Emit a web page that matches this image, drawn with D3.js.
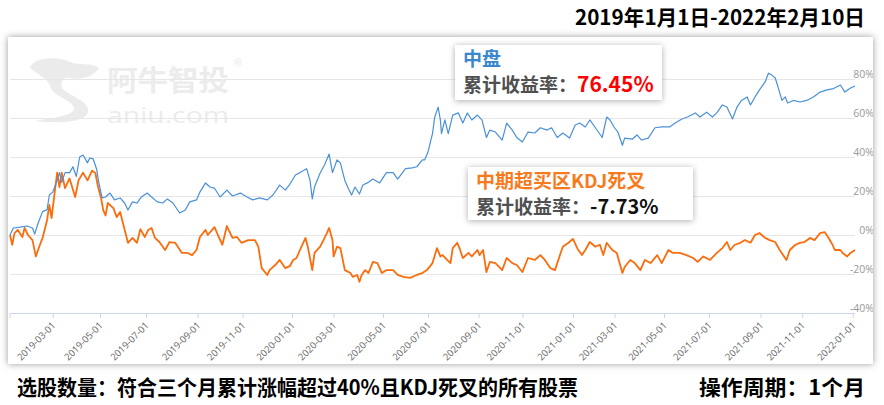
<!DOCTYPE html>
<html>
<head>
<meta charset="utf-8">
<script src="https://cdn.jsdelivr.net/npm/d3@7/dist/d3.min.js"></script>
<style>
  html, body { margin: 0; padding: 0; background: #fff; }
  svg { display: block; font-family: "Noto Sans CJK SC", "Noto Sans", sans-serif; }
</style>
</head>
<body>
<svg id="chart" width="884" height="405"></svg>
<script>
// ---- data ----
const titleText = "2019年1月1日-2022年2月10日";
const footLeft = "选股数量：符合三个月累计涨幅超过40%且KDJ死叉的所有股票";
const footRight = "操作周期：1个月";
const series1Name = "中盘";
const series1Return = "76.45%";
const series2Name = "中期超买区KDJ死叉";
const series2Return = "-7.73%";
const returnLabel = "累计收益率：";

const totalDays = 752;
const tickDays = [38, 80, 121, 167, 207, 251, 288, 332, 372, 417, 456, 501, 538, 582, 622, 668, 705, 750];
const tickLabels = ["2019-03-01","2019-05-01","2019-07-01","2019-09-01","2019-11-01","2020-01-01","2020-03-01","2020-05-01","2020-07-01","2020-09-01","2020-11-01","2021-01-01","2021-03-01","2021-05-01","2021-07-01","2021-09-01","2021-11-01","2022-01-01"];
const yTicks = [-40, -20, 0, 20, 40, 60, 80];

// [trading-day index, cumulative return %]
const blueSeries = [
[0,0],[3,3.6],[9,4],[15,4.6],[20,3.6],[22,0.5],[25,6],[29,12],[33,13],[35,20.5],[38,22],[42,28],[44,32],[46,27],[49,32],[53,32],[56,35],[59,30],[62,40],[65,41],[69,37],[71,39.5],[74,39],[77,34],[79,27],[82,19],[85,19.5],[89,21.5],[93,18],[98,19],[102,16.4],[105,12.8],[109,17],[113,16.4],[117,19.5],[122,21.5],[126,19.5],[131,17],[136,16.4],[140,18.5],[145,16.4],[151,11.3],[156,12.8],[160,17],[166,18],[169,22],[174,26.7],[178,24.6],[182,24],[187,19.5],[193,23],[198,20],[205,21.5],[211,19.5],[216,18],[222,19],[229,18],[234,20.5],[240,25.6],[245,23],[249,26],[254,30.8],[258,32],[264,34],[267,28],[269,18.5],[271,24.6],[276,31.8],[280,36],[284,41.5],[287,32],[291,38.5],[294,37],[298,28],[301,24],[304,20.5],[307,24.6],[311,21],[314,25.6],[319,27],[323,28.7],[329,26.7],[335,32],[341,32],[345,28.7],[352,34],[358,34.4],[362,35],[367,38.5],[369,38.5],[372,42.6],[376,52],[378,60.5],[381,65.6],[383,59],[384,52],[387,59],[390,52],[394,61.5],[399,62.6],[403,57.4],[407,62.6],[411,59],[416,61.5],[420,59],[424,50],[427,53.8],[432,52.8],[438,48.7],[442,57.4],[447,53.8],[451,50],[456,47.7],[461,52.8],[467,52.3],[472,55],[478,53.8],[482,55],[487,50],[492,52.3],[498,49.7],[503,56.4],[507,57.4],[512,55.4],[516,59],[521,55],[527,50],[531,60.5],[534,59],[538,55],[541,52.8],[545,46],[547,49.7],[554,49.2],[558,51.3],[562,48.7],[568,49.7],[574,55],[580,55.4],[587,55.4],[592,57.4],[598,59.5],[603,60.5],[610,62.6],[614,60.5],[620,63],[625,60.5],[629,62.6],[634,66.7],[638,65.6],[643,59.5],[647,65.6],[651,69],[656,70.8],[659,66.7],[663,70.8],[667,74.4],[672,78.5],[675,83],[678,82],[681,80.5],[683,76.9],[687,69],[690,70.8],[692,67.7],[697,69],[703,68.2],[709,69],[715,70.8],[721,73.3],[727,74.4],[732,74.9],[739,76.9],[743,73.3],[748,75.4],[752,76.45]
];
const orangeSeries = [
[0,0],[2,-5],[4,1],[7,2.6],[11,-1],[13,3.6],[16,0],[20,-2.6],[23,-11],[26,-6],[29,-1.5],[33,7.7],[35,15.4],[37,8.7],[40,23],[42,32],[44,24.6],[46,32],[49,24],[53,29],[58,19.5],[61,28],[65,32],[69,28],[73,33],[76,31.8],[78,25.6],[81,19],[83,12.8],[85,10],[87,16.4],[92,13.8],[95,9.2],[98,11.8],[101,5],[105,-4],[109,-1.5],[113,-4],[116,3],[120,-1],[123,2.6],[126,3.6],[129,-1.5],[133,-3.6],[138,-7.7],[142,-3.6],[147,-4],[153,-9.2],[158,-9.2],[162,-10.3],[166,-7.7],[169,-1],[174,2.6],[176,0],[182,4],[185,0],[189,-5],[193,4.6],[198,-1.5],[202,-1],[206,-4],[212,-2.6],[218,-2.6],[221,-6],[224,-17],[229,-20.5],[231,-18],[236,-15.4],[240,-12.8],[245,-17],[249,-16],[252,-12.8],[255,-11.8],[258,-7.7],[263,-1.5],[265,-6],[269,-18],[271,-9.2],[276,-6],[279,-2.6],[282,1],[284,3.6],[287,-2.6],[288,-11],[291,-6],[294,-6.7],[298,-18],[303,-19.5],[305,-21.5],[309,-20.5],[311,-24],[313,-20.5],[316,-18],[319,-19.5],[323,-13.8],[327,-14.4],[331,-19.5],[335,-18],[341,-18],[345,-20.5],[350,-21.5],[356,-22],[362,-20.5],[367,-19.5],[371,-18],[376,-14.4],[380,-6.7],[383,-11],[385,-10.3],[389,-12.8],[392,-14.4],[394,-6.7],[398,-4],[400,-6.7],[403,-11.8],[408,-9.2],[411,-11],[416,-7.7],[418,-10.3],[421,-7.7],[424,-19],[427,-13.8],[432,-14.4],[438,-18],[442,-11.8],[447,-14.4],[451,-15.4],[456,-19],[461,-11.8],[467,-12.8],[472,-10.3],[476,-12.8],[481,-17],[485,-18],[489,-11],[492,-6],[497,-4],[501,-2],[505,-7],[509,-10.3],[512,-7.7],[516,-3.6],[521,-6],[525,-5],[528,-10.3],[531,-4],[536,-7.7],[540,-9.2],[545,-19.5],[547,-16.4],[552,-12.8],[556,-14.4],[561,-18],[565,-12.8],[570,-14.4],[576,-10.3],[580,-14.4],[586,-7.7],[590,-9.2],[596,-9.2],[602,-10.3],[608,-11.8],[612,-13.8],[617,-11],[623,-12.8],[629,-9.2],[634,-6.7],[638,-3.6],[641,-7.7],[645,-5],[650,-4],[654,-2.6],[659,-4],[663,0],[667,1],[672,-1.5],[676,-2.6],[681,-3.6],[685,-7.7],[688,-10.3],[691,-12.8],[694,-7.7],[699,-5],[703,-4],[707,-3.6],[712,-1.5],[716,-2.6],[721,1],[725,1.5],[728,-1],[732,-5],[734,-7.7],[739,-7.7],[741,-9.2],[745,-11],[748,-9.2],[752,-7.73]
];

// ---- drawing ----
const svg = d3.select("#chart");
const defs = svg.append("defs");
const sh = defs.append("filter").attr("id", "shadow").attr("x", "-10%").attr("y", "-10%").attr("width", "120%").attr("height", "120%");
sh.append("feDropShadow").attr("dx", 0).attr("dy", 0).attr("stdDeviation", 3.5).attr("flood-color", "#777").attr("flood-opacity", 0.75);
const sh2 = defs.append("filter").attr("id", "shadow2").attr("x", "-20%").attr("y", "-30%").attr("width", "140%").attr("height", "160%");
sh2.append("feDropShadow").attr("dx", 0).attr("dy", 1).attr("stdDeviation", 3).attr("flood-color", "#888").attr("flood-opacity", 0.7);

const panel = {x: 8, y: 37, w: 865, h: 327};
defs.append("clipPath").attr("id", "panelClip").append("rect")
  .attr("x", panel.x).attr("y", panel.y).attr("width", panel.w).attr("height", panel.h);

svg.append("rect").attr("x", panel.x).attr("y", panel.y).attr("width", panel.w).attr("height", panel.h)
  .attr("fill", "#fff").attr("filter", "url(#shadow)");

// title
svg.append("text").attr("x", 575).attr("y", 25)
  .attr("font-size", 21).attr("font-weight", "bold").attr("fill", "#000")
  .attr("textLength", 290).attr("lengthAdjust", "spacingAndGlyphs").text(titleText);

// watermark
const wm = svg.append("g").attr("fill", "#ebebeb");
wm.append("path").attr("d", "M30,68 C32,58 55,55 70,62 C80,66 90,62 99,68 C92,78 80,80 70,78 C63,77 60,82 62,88 C66,95 90,100 88,112 C86,122 60,124 35,121 C50,118 75,116 74,108 C73,100 52,96 50,86 C49,80 40,76 30,68 Z");
wm.append("text").attr("x", 107).attr("y", 91).attr("font-size", 28).attr("font-weight", "bold").attr("fill", "#ececec")
  .attr("textLength", 122).attr("lengthAdjust", "spacingAndGlyphs").text("阿牛智投");
wm.append("text").attr("x", 234).attr("y", 72).attr("font-size", 17).attr("fill", "#ececec").text("®");
wm.append("text").attr("x", 107).attr("y", 123).attr("font-size", 22).attr("fill", "#ececec").attr("font-family", "Open Sans, sans-serif")
  .attr("textLength", 122).attr("lengthAdjust", "spacingAndGlyphs").text("aniu.com");

const x = d3.scaleLinear().domain([0, totalDays]).range([10, 855]);
const y = d3.scaleLinear().domain([-40, 100]).range([313, 40]);

const g = svg.append("g").attr("clip-path", "url(#panelClip)");

// gridlines
g.selectAll("line.grid").data(yTicks.filter(d => d > -40)).enter().append("line")
  .attr("x1", x(0)).attr("x2", x(totalDays)).attr("y1", d => y(d)).attr("y2", d => y(d))
  .attr("stroke", "#e6e6e6").attr("stroke-width", 1).attr("shape-rendering", "crispEdges");

// y labels
const yAxis = d3.axisLeft(y).tickValues(yTicks).tickSize(0).tickPadding(0).tickFormat(d => d + "%");
const ya = g.append("g").attr("transform", "translate(874,0)").call(yAxis);
ya.select(".domain").remove();
ya.selectAll("text").attr("font-size", 10.5).attr("fill", "#999").attr("dy", "-0.1em")
  .attr("font-family", "Open Sans, sans-serif");

// x axis
const xAxis = d3.axisBottom(x).tickValues(tickDays).tickSize(5).tickPadding(0).tickFormat((d, i) => tickLabels[i]);
const xa = g.append("g").attr("transform", `translate(0,${y(-40)})`).call(xAxis);
xa.select(".domain").attr("stroke", "#ccd6eb").attr("d", `M${x(0)},0.5H${x(totalDays)}`);
xa.selectAll(".tick line").attr("stroke", "#ccd6eb");
xa.selectAll("text").attr("font-size", 9.5).attr("fill", "#666").attr("text-anchor", "end")
  .attr("font-family", "Open Sans, sans-serif")
  .attr("dy", 0).attr("y", 0)
  .attr("transform", "translate(3,13) rotate(-45)");
xa.append("line").attr("x1", x(0)).attr("x2", x(0)).attr("y1", 0).attr("y2", 5).attr("stroke", "#ccd6eb");

// lines
const line = d3.line().x(d => x(d[0])).y(d => y(d[1]));
g.append("path").datum(orangeSeries).attr("d", line).attr("fill", "none")
  .attr("stroke", "#fb6c0c").attr("stroke-width", 1.8).attr("stroke-linejoin", "round");
g.append("path").datum(blueSeries).attr("d", line).attr("fill", "none")
  .attr("stroke", "#4a90d9").attr("stroke-width", 1.2).attr("stroke-linejoin", "round");

// legend boxes
function legendBox(bx, by, bw, bh, name, nameColor, ret, retColor, retSize) {
  const lg = svg.append("g");
  lg.append("rect").attr("x", bx).attr("y", by).attr("width", bw).attr("height", bh)
    .attr("fill", "#fff").attr("filter", "url(#shadow2)");
  lg.append("text").attr("x", bx + 8).attr("y", by + 21).attr("font-size", 19).attr("font-weight", "bold")
    .attr("fill", nameColor).text(name);
  const t = lg.append("text").attr("x", bx + 8).attr("y", by + 47).attr("font-weight", "bold");
  t.append("tspan").attr("font-size", 19).attr("fill", "#505050").text(returnLabel);
  t.append("tspan").attr("font-size", retSize).attr("fill", retColor).text(ret);
}
legendBox(455, 45, 207, 55, series1Name, "#3a87d0", series1Return, "#ff0000", 21);
legendBox(468, 167, 225, 53, series2Name, "#f77b1e", series2Return, "#111", 20);

// footer
svg.append("text").attr("x", 17).attr("y", 395).attr("font-size", 21).attr("font-weight", "bold")
  .attr("fill", "#000").attr("textLength", 561).attr("lengthAdjust", "spacingAndGlyphs").text(footLeft);
svg.append("text").attr("x", 699).attr("y", 395).attr("font-size", 21).attr("font-weight", "bold")
  .attr("fill", "#000").attr("textLength", 166).attr("lengthAdjust", "spacingAndGlyphs").text(footRight);
</script>
</body>
</html>
